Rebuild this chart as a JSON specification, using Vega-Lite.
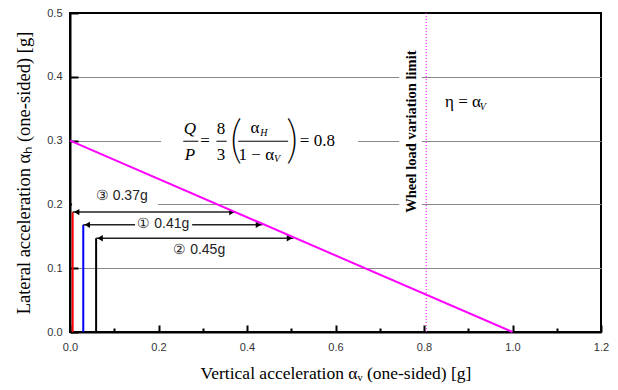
{
  "$schema": "https://vega.github.io/schema/vega-lite/v6.json",
  "width": 531,
  "height": 319,
  "autosize": "none",
  "padding": {"left": 70, "top": 13, "right": 17, "bottom": 58},
  "background": "white",
  "config": {"view": {"stroke": "black", "strokeWidth": 2}},
  "datasets": {
    "masks": [
      {"x": 0.005, "x2": 0.199, "y": 0.197, "y2": 0.228},
      {"x": 0.147, "x2": 0.276, "y": 0.155, "y2": 0.183},
      {"x": 0.206, "x2": 0.651, "y": 0.262, "y2": 0.34},
      {"x": 0.744, "x2": 0.795, "y": 0.175, "y2": 0.455}
    ],
    "diag": [{"x": 0, "y": 0.3}, {"x": 1.0, "y": 0}],
    "limit": [{"x": 0.805}],
    "verts": [
      {"id": "3", "x": 0.006, "top": 0.188, "xend": 0.375},
      {"id": "1", "x": 0.030, "top": 0.168, "xend": 0.435},
      {"id": "2", "x": 0.059, "top": 0.147, "xend": 0.505}
    ],
    "heads": [
      {"x": 0.015, "y": 0.188, "dir": "left"},
      {"x": 0.366, "y": 0.188, "dir": "right"},
      {"x": 0.039, "y": 0.168, "dir": "left"},
      {"x": 0.426, "y": 0.168, "dir": "right"},
      {"x": 0.068, "y": 0.147, "dir": "left"},
      {"x": 0.496, "y": 0.147, "dir": "right"}
    ],
    "labels": [
      {"t": "③ 0.37g", "x": 0.117, "y": 0.2125},
      {"t": "① 0.41g", "x": 0.211, "y": 0.170},
      {"t": "② 0.45g", "x": 0.292, "y": 0.128}
    ],
    "wheel": [{"t": "Wheel load variation limit", "x": 0.773, "y": 0.314}],
    "fnormal": [
      {"t": "=", "x": 0.305, "y": 0.299},
      {"t": "8", "x": 0.341, "y": 0.318},
      {"t": "3", "x": 0.341, "y": 0.278},
      {"t": "α", "x": 0.418, "y": 0.320},
      {"t": "1 − α", "x": 0.421, "y": 0.278},
      {"t": "= 0.8", "x": 0.559, "y": 0.299},
      {"t": "η = α", "x": 0.888, "y": 0.361}
    ],
    "fitalic": [
      {"t": "Q", "x": 0.271, "y": 0.318},
      {"t": "P", "x": 0.271, "y": 0.278}
    ],
    "fsub": [
      {"t": "H", "x": 0.438, "y": 0.312},
      {"t": "V", "x": 0.468, "y": 0.271},
      {"t": "V", "x": 0.933, "y": 0.353}
    ],
    "parens": [
      {"t": "(", "x": 0.373, "y": 0.299},
      {"t": ")", "x": 0.504, "y": 0.299}
    ],
    "bars": [
      {"x": 0.256, "x2": 0.29, "y": 0.299},
      {"x": 0.331, "x2": 0.354, "y": 0.299},
      {"x": 0.380, "x2": 0.493, "y": 0.299}
    ]
  },
  "layer": [
    {
      "data": {"name": "masks"},
      "mark": {"type": "rect", "fill": "white", "strokeWidth": 0},
      "encoding": {
        "x": {
          "field": "x", "type": "quantitative",
          "scale": {"domain": [0, 1.2], "nice": false, "zero": false},
          "axis": {
            "values": [0, 0.1, 0.2, 0.3, 0.4, 0.5, 0.6, 0.7, 0.8, 0.9, 1.0, 1.1, 1.2],
            "format": ".1f",
            "labelExpr": "round(datum.value*10) % 2 == 0 ? datum.label : ''",
            "labelOverlap": false,
            "labelFlush": false,
            "grid": false,
            "ticks": true,
            "tickSize": {"condition": {"test": "round(datum.value*10) % 2 == 0", "value": -7}, "value": -4},
            "tickColor": "black",
            "tickWidth": 2,
            "domainColor": "black",
            "domainWidth": 2,
            "labelFont": "Liberation Sans",
            "labelFontSize": 11,
            "labelColor": "#333",
            "labelPadding": 16,
            "title": "Vertical acceleration αᵥ (one-sided) [g]",
            "titleFont": "Liberation Serif",
            "titleFontSize": 17.5,
            "titleFontWeight": "normal",
            "titleColor": "black",
            "titlePadding": 9
          }
        },
        "x2": {"field": "x2"},
        "y": {
          "field": "y", "type": "quantitative",
          "scale": {"domain": [0, 0.5], "nice": false, "zero": false},
          "axis": {
            "values": [0, 0.05, 0.1, 0.15, 0.2, 0.25, 0.3, 0.35, 0.4, 0.45, 0.5],
            "format": ".1f",
            "labelExpr": "round(datum.value*100) % 10 == 0 ? datum.label : ''",
            "labelOverlap": false,
            "labelFlush": false,
            "grid": true,
            "gridColor": "#888",
            "gridWidth": 1,
            "gridOpacity": {"condition": {"test": "round(datum.value*100) % 10 == 0 && datum.value > 0.01 && datum.value < 0.49", "value": 1}, "value": 0},
            "ticks": true,
            "tickSize": {"condition": {"test": "round(datum.value*100) % 10 == 0", "value": -8}, "value": -4},
            "tickColor": "black",
            "tickWidth": 2,
            "domainColor": "black",
            "domainWidth": 2,
            "labelFont": "Liberation Sans",
            "labelFontSize": 11,
            "labelColor": "#333",
            "labelPadding": 16,
            "title": "Lateral acceleration αₕ (one-sided) [g]",
            "titleFont": "Liberation Serif",
            "titleFontSize": 18.5,
            "titleFontWeight": "normal",
            "titleColor": "black",
            "titlePadding": 13
          }
        },
        "y2": {"field": "y2"}
      }
    },
    {
      "data": {"name": "limit"},
      "mark": {"type": "rule", "color": "#ff00ff", "strokeWidth": 1, "strokeDash": [1, 2]},
      "encoding": {"x": {"field": "x", "type": "quantitative"}}
    },
    {
      "data": {"name": "verts"},
      "mark": {"type": "rule", "strokeWidth": 2},
      "encoding": {
        "x": {"field": "x", "type": "quantitative"},
        "y": {"field": "top", "type": "quantitative"},
        "y2": {"datum": 0},
        "color": {"field": "id", "type": "nominal", "scale": {"domain": ["3", "1", "2"], "range": ["#ff0000", "#0000ff", "#000000"]}, "legend": null}
      }
    },
    {
      "data": {"name": "verts"},
      "mark": {"type": "rule", "strokeWidth": 1.5, "color": "#222"},
      "encoding": {
        "x": {"field": "x", "type": "quantitative"},
        "x2": {"field": "xend"},
        "y": {"field": "top", "type": "quantitative"}
      }
    },
    {
      "data": {"name": "heads"},
      "mark": {"type": "point", "filled": true, "color": "black", "size": 40, "opacity": 1},
      "encoding": {
        "x": {"field": "x", "type": "quantitative"},
        "y": {"field": "y", "type": "quantitative"},
        "shape": {"field": "dir", "type": "nominal", "scale": {"domain": ["left", "right"], "range": ["triangle-left", "triangle-right"]}, "legend": null}
      }
    },
    {
      "data": {"name": "masks"},
      "transform": [{"filter": "datum.x < 0.2"}],
      "mark": {"type": "rect", "fill": "white", "strokeWidth": 0},
      "encoding": {
        "x": {"field": "x", "type": "quantitative"},
        "x2": {"field": "x2"},
        "y": {"field": "y", "type": "quantitative"},
        "y2": {"field": "y2"}
      }
    },
    {
      "data": {"name": "diag"},
      "mark": {"type": "line", "color": "#ff00ff", "strokeWidth": 2},
      "encoding": {
        "x": {"field": "x", "type": "quantitative"},
        "y": {"field": "y", "type": "quantitative"}
      }
    },
    {
      "data": {"name": "labels"},
      "mark": {"type": "text", "font": "Liberation Sans", "fontSize": 14, "color": "#222", "align": "center", "baseline": "middle"},
      "encoding": {
        "x": {"field": "x", "type": "quantitative"},
        "y": {"field": "y", "type": "quantitative"},
        "text": {"field": "t", "type": "nominal"}
      }
    },
    {
      "data": {"name": "wheel"},
      "mark": {"type": "text", "font": "Liberation Serif", "fontSize": 14.5, "fontWeight": "bold", "color": "black", "align": "center", "baseline": "middle", "angle": 270},
      "encoding": {
        "x": {"field": "x", "type": "quantitative"},
        "y": {"field": "y", "type": "quantitative"},
        "text": {"field": "t", "type": "nominal"}
      }
    },
    {
      "data": {"name": "fnormal"},
      "mark": {"type": "text", "font": "Liberation Serif", "fontSize": 17, "color": "black", "align": "center", "baseline": "middle"},
      "encoding": {
        "x": {"field": "x", "type": "quantitative"},
        "y": {"field": "y", "type": "quantitative"},
        "text": {"field": "t", "type": "nominal"}
      }
    },
    {
      "data": {"name": "fitalic"},
      "mark": {"type": "text", "font": "Liberation Serif", "fontSize": 17, "fontStyle": "italic", "color": "black", "align": "center", "baseline": "middle"},
      "encoding": {
        "x": {"field": "x", "type": "quantitative"},
        "y": {"field": "y", "type": "quantitative"},
        "text": {"field": "t", "type": "nominal"}
      }
    },
    {
      "data": {"name": "fsub"},
      "mark": {"type": "text", "font": "Liberation Serif", "fontSize": 10, "fontStyle": "italic", "color": "black", "align": "center", "baseline": "middle"},
      "encoding": {
        "x": {"field": "x", "type": "quantitative"},
        "y": {"field": "y", "type": "quantitative"},
        "text": {"field": "t", "type": "nominal"}
      }
    },
    {
      "data": {"name": "parens"},
      "mark": {"type": "text", "font": "Noto Sans CJK JP", "fontSize": 46, "fontWeight": 100, "color": "black", "align": "center", "baseline": "middle"},
      "encoding": {
        "x": {"field": "x", "type": "quantitative"},
        "y": {"field": "y", "type": "quantitative"},
        "text": {"field": "t", "type": "nominal"}
      }
    },
    {
      "data": {"name": "bars"},
      "mark": {"type": "rule", "color": "black", "strokeWidth": 1},
      "encoding": {
        "x": {"field": "x", "type": "quantitative"},
        "x2": {"field": "x2"},
        "y": {"field": "y", "type": "quantitative"}
      }
    }
  ]
}
